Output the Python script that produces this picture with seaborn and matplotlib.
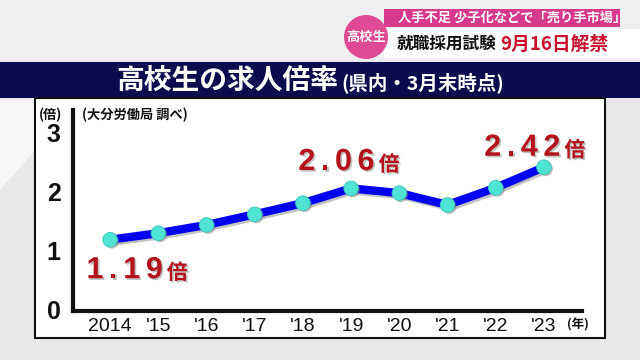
import matplotlib
matplotlib.use("Agg")
import matplotlib.pyplot as plt
import matplotlib.patheffects as pe
from matplotlib.patches import Rectangle, Circle, Polygon
import seaborn as sns
import pandas as pd

# ---- data ----
years = ["2014", "'15", "'16", "'17", "'18", "'19", "'20", "'21", "'22", "'23"]
ratios = [1.19, 1.30, 1.44, 1.62, 1.81, 2.06, 1.98, 1.78, 2.07, 2.42]
yticks = [0, 1, 2, 3]
label_idx = [0, 5, 9]

title_main = "高校生の求人倍率"
title_sub = "(県内・3月末時点)"
source = "(大分労働局 調べ)"
unit_y = "(倍)"
unit_x = "(年)"
banner_top = "人手不足 少子化などで「売り手市場」"
banner_black = "就職採用試験"
banner_red = "9月16日解禁"
badge = "高校生"

sns.set_theme(style="white")
JP = ["Noto Sans CJK JP", "DejaVu Sans"]
LAT = ["Liberation Sans", "Noto Sans CJK JP", "DejaVu Sans"]
plt.rcParams["font.family"] = JP

W, H = 640, 360
fig = plt.figure(figsize=(6.4, 3.6), dpi=100)
fig.patch.set_facecolor("#e8e8ea")

def px(x, y, w, h):
    return (x / W, 1 - (y + h) / H, w / W, h / H)

def rect(x, y, w, h, **kw):
    l, b, ww, hh = px(x, y, w, h)
    fig.patches.append(Rectangle((l, b), ww, hh, transform=fig.transFigure, **kw))

def ftext(x, y, s, **kw):
    fig.text(x / W, 1 - y / H, s, **kw)

# background pieces
rect(0, 0, 640, 60, facecolor="#efeff1", edgecolor="none", zorder=0)
fig.patches.append(Polygon([(0, 1 - 100 / H), (80 / W, 1 - 100 / H), (0, 1 - 190 / H)],
                           closed=True, transform=fig.transFigure,
                           facecolor="#f6f6f6", edgecolor="none", zorder=0))
# title bar
rect(0, 62, 640, 36, facecolor="#0b0c4e", edgecolor="none", zorder=1)
ftext(116, 81, title_main, color="white", fontsize=20, fontweight="bold",
      va="center", ha="left", family=JP)
ftext(341, 83, title_sub, color="white", fontsize=14, fontweight="bold",
      va="center", ha="left", family=JP)

# white panel
rect(35, 98, 570, 240, facecolor="white", edgecolor="#111111", linewidth=1.5, zorder=1)

# top banner
rect(384, 9, 236, 18, facecolor="#d63a8c", edgecolor="none", zorder=2)
rect(384, 29, 256, 29, facecolor="white", edgecolor="none", zorder=2)
badge_circle = Circle((3.66, 3.6 - 0.37), 0.22, transform=fig.dpi_scale_trans,
                      facecolor="#de4a93", edgecolor="none", zorder=3)
fig.patches.append(badge_circle)
ftext(366, 37, badge, color="white", fontsize=9.5, fontweight="bold",
      ha="center", va="center", zorder=4, family=JP)
ftext(398, 18, banner_top, color="white", fontsize=9.5, fontweight="bold",
      ha="left", va="center", zorder=4, family=JP)
ftext(397, 44, banner_black, color="#111111", fontsize=12, fontweight="bold",
      ha="left", va="center", zorder=4, family=JP)
ftext(500, 44, banner_red, color="#c8102e", fontsize=13.5, fontweight="bold",
      ha="left", va="center", zorder=4, family=JP)

# ---- chart ----
ax = fig.add_axes([73 / W, 1 - 311 / H, (582 - 73) / W, (311 - 110) / H])
ax.set_facecolor("none")
ax.set_zorder(5)
df = pd.DataFrame({"x": range(len(years)), "y": ratios})
sns.lineplot(data=df, x="x", y="y", ax=ax, color="#0000f2", linewidth=6,
             solid_capstyle="round", zorder=3,
             path_effects=[pe.SimpleLineShadow(offset=(1.5, -1.5), shadow_color="#888888", alpha=0.5),
                           pe.Normal()])
sns.scatterplot(data=df, x="x", y="y", ax=ax, s=110, color="#4fe3d3",
                edgecolor="#3cc9bb", linewidth=0.6, zorder=4,
                path_effects=[pe.SimplePatchShadow(offset=(1.2, -1.2), shadow_rgbFace="#777777", alpha=0.5),
                              pe.Normal()])

ax.set_xlim(-0.77, 9.79)
ax.set_ylim(-0.02, 3.39)
ax.set_xticks(range(len(years)))
ax.set_xticklabels(years, fontsize=14, color="#111111", family=LAT)
ax.set_yticks(yticks)
ax.set_yticklabels([str(t) for t in yticks], fontsize=18, fontweight="bold",
                   color="#111111", family=LAT)
ax.tick_params(axis="x", length=0, pad=5)
ax.tick_params(axis="y", direction="inout", length=12, width=2, color="#111111", pad=3)
ax.set_xlabel("")
ax.set_ylabel("")
for side in ["top", "right"]:
    ax.spines[side].set_visible(False)
for side in ["left", "bottom"]:
    ax.spines[side].set_linewidth(3)
    ax.spines[side].set_color("#111111")
ax.grid(False)

# annotations with wide letter spacing
shadow = [pe.withSimplePatchShadow(offset=(1.2, -1.2), shadow_rgbFace="#999999", alpha=0.6)]
offsets = {0: (-17, -22), 5: (-38, 19), 9: (-43, 14)}
red = "#b3121c"
for i in label_idx:
    s = f"{ratios[i]:.2f}"
    prev = ax.annotate(s[0], xy=(i, ratios[i]), xytext=offsets[i], textcoords="offset points",
                       ha="left", va="center", fontsize=22, fontweight="bold", color=red,
                       family=LAT, path_effects=shadow, zorder=6, annotation_clip=False)
    for ch in s[1:]:
        prev = ax.annotate(ch, xy=(1, 0), xycoords=prev, xytext=(4, 0), textcoords="offset points",
                           ha="left", va="bottom", fontsize=22, fontweight="bold", color=red,
                           family=LAT, path_effects=shadow, zorder=6, annotation_clip=False)
    ax.annotate("倍", xy=(1, 0), xycoords=prev, xytext=(3, 1.5), textcoords="offset points",
                ha="left", va="bottom", fontsize=15, fontweight="bold", color=red,
                family=JP, path_effects=shadow, zorder=6, annotation_clip=False)

ftext(50, 115, unit_y, fontsize=9.5, fontweight="bold", color="#111111",
      ha="center", va="center", zorder=6, family=JP)
ftext(82, 115, source, fontsize=9.5, fontweight="bold", color="#111111",
      ha="left", va="center", zorder=6, family=JP)
ftext(578, 325, unit_x, fontsize=9, fontweight="bold", color="#111111",
      ha="center", va="center", zorder=6, family=JP)

fig.savefig("out.png", dpi=100)
